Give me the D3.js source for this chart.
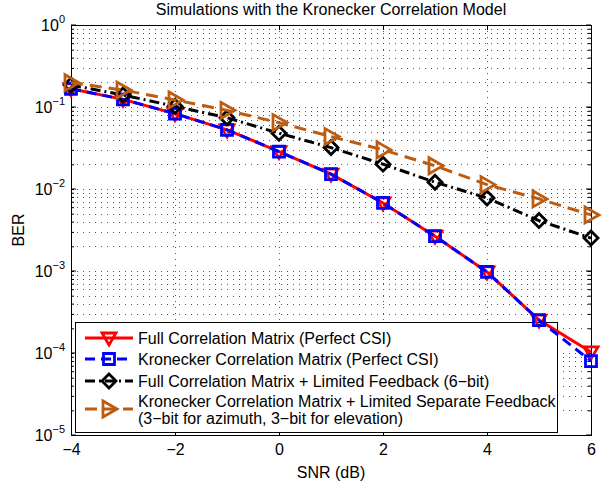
<!DOCTYPE html>
<html>
<head>
<meta charset="utf-8">
<script src="https://cdn.jsdelivr.net/npm/d3@7"></script>
<style>
  body { margin: 0; background: #fff; }
  svg { font-family: "Liberation Sans", Arial, sans-serif; }
</style>
</head>
<body>
<svg id="chart"></svg>
<script>
const w = 608;
const h = 485;
const margin = {top: 25, right: 17, bottom: 50, left: 71};

// SNR (dB) values
const snr = [-4, -3, -2, -1, 0, 1, 2, 3, 4, 5, 6];
// BER series
const fullPerfect = [0.167, 0.124, 0.083, 0.0526, 0.0286, 0.0152, 0.00676, 0.00266, 0.000973, 0.000252, 0.000103];
const kronPerfect = [0.167, 0.124, 0.083, 0.0526, 0.0286, 0.0152, 0.00676, 0.00266, 0.000973, 0.000252, 0.0000798];
const fullLimited = [0.185, 0.140, 0.102, 0.074, 0.0479, 0.032, 0.0201, 0.0121, 0.00778, 0.00412, 0.00252];
const kronLimited = [0.198, 0.161, 0.122, 0.091, 0.0645, 0.0436, 0.030, 0.0192, 0.0113, 0.00757, 0.00483];

const xTicks = [-4, -2, 0, 2, 4, 6];
const yDecades = [0, -1, -2, -3, -4, -5];

const seriesNames = [
  ["Full Correlation Matrix (Perfect CSI)"],
  ["Kronecker Correlation Matrix (Perfect CSI)"],
  ["Full Correlation Matrix + Limited Feedback (6\u2212bit)"],
  ["Kronecker Correlation Matrix + Limited Separate Feedback", "(3\u2212bit for azimuth, 3\u2212bit for elevation)"]
];

const series = [
  {values: fullPerfect, color: "#ff0000", dash: null, marker: "tdown"},
  {values: kronPerfect, color: "#0000ff", dash: "10,6", marker: "square"},
  {values: fullLimited, color: "#000000", dash: "10,4,2,4", marker: "diamond"},
  {values: kronLimited, color: "#bc5c12", dash: "12,7", marker: "tright"}
];

const fs = 16;

const svg = d3.select("#chart").attr("width", w).attr("height", h);

const x = d3.scaleLinear().domain([-4, 6]).range([margin.left, w - margin.right]);
const y = d3.scaleLog().domain([1e-5, 1]).range([h - margin.bottom, margin.top]);

// grid (dotted)
const minorVals = [];
for (let e = -5; e < 0; e++) {
  for (let k = 1; k <= 9; k++) minorVals.push(k * Math.pow(10, e));
}
const grid = svg.append("g").attr("stroke", "#555").attr("stroke-width", 1)
  .attr("stroke-dasharray", "1,5").attr("shape-rendering", "crispEdges");
grid.selectAll("line.h").data(minorVals.filter(v => v > 1e-5)).enter().append("line")
  .attr("x1", margin.left).attr("x2", w - margin.right)
  .attr("y1", d => Math.round(y(d)) + 0.5).attr("y2", d => Math.round(y(d)) + 0.5);
grid.selectAll("line.v").data(xTicks.slice(1, -1)).enter().append("line")
  .attr("y1", margin.top).attr("y2", h - margin.bottom)
  .attr("x1", d => Math.round(x(d)) + 0.5).attr("x2", d => Math.round(x(d)) + 0.5);

// axes with inward ticks
const axisG = svg.append("g");
axisG.append("g").attr("transform", `translate(0,${h - margin.bottom})`)
  .call(d3.axisBottom(x).tickValues(xTicks).tickSizeInner(-5).tickSizeOuter(0).tickPadding(9)
    .tickFormat(d => d < 0 ? "\u2212" + Math.abs(d) : d));
axisG.append("g").attr("transform", `translate(0,${margin.top})`)
  .call(d3.axisTop(x).tickValues(xTicks).tickSizeInner(-5).tickSizeOuter(0).tickFormat(""));
axisG.append("g").attr("transform", `translate(${margin.left},0)`)
  .call(d3.axisLeft(y).tickValues(minorVals.concat([1])).tickSizeInner(-3).tickSizeOuter(0).tickFormat(""));
axisG.append("g").attr("transform", `translate(${w - margin.right},0)`)
  .call(d3.axisRight(y).tickValues(minorVals.concat([1])).tickSizeInner(-3).tickSizeOuter(0).tickFormat(""));
axisG.selectAll(".domain").attr("stroke", "#000").attr("stroke-width", 1);
axisG.selectAll(".tick line").attr("stroke", "#000");
axisG.selectAll("text").attr("font-size", fs).attr("fill", "#000")
  .attr("font-family", "'Liberation Sans', Arial, sans-serif");

// major y ticks longer
const majorY = svg.append("g").attr("stroke", "#000");
yDecades.forEach(e => {
  const yy = y(Math.pow(10, e));
  majorY.append("line").attr("x1", margin.left).attr("x2", margin.left + 5).attr("y1", yy).attr("y2", yy);
  majorY.append("line").attr("x1", w - margin.right).attr("x2", w - margin.right - 5).attr("y1", yy).attr("y2", yy);
});

// y tick labels 10^e
const ylab = svg.append("g").attr("font-size", fs).attr("fill", "#000");
yDecades.forEach(e => {
  const t = ylab.append("text").attr("x", margin.left - 6).attr("y", y(Math.pow(10, e)) + 6)
    .attr("text-anchor", "end");
  t.append("tspan").text("10");
  t.append("tspan").attr("dy", -8).attr("font-size", 11).text(e === 0 ? "0" : "\u2212" + Math.abs(e));
});

// frame
svg.append("rect").attr("x", margin.left + 0.5).attr("y", margin.top + 0.5)
  .attr("width", w - margin.left - margin.right).attr("height", h - margin.top - margin.bottom)
  .attr("fill", "none").attr("stroke", "#000").attr("stroke-width", 1);

// markers
function markerPath(type) {
  if (type === "tdown") return "M-7,-5L7,-5L0,7Z";
  if (type === "square") return "M-5.5,-5.5L5.5,-5.5L5.5,5.5L-5.5,5.5Z";
  if (type === "diamond") return "M0,-7L7,0L0,7L-7,0Z";
  return "M-6,-8L-6,8L8,0Z";
}

// legend box (curves cross its top-right corner in the original)
const lg = svg.append("g");
lg.append("rect").attr("x", 75.5).attr("y", 322.5).attr("width", 482).attr("height", 110)
  .attr("fill", "#fff").attr("stroke", "#000").attr("stroke-width", 1);
const rowY = [338, 359, 381, 409];
series.forEach((s, i) => {
  const yy = rowY[i];
  lg.append("line").attr("x1", 85).attr("x2", 133).attr("y1", yy).attr("y2", yy)
    .attr("stroke", s.color).attr("stroke-width", 3).attr("stroke-dasharray", s.dash);
  lg.append("path").attr("transform", `translate(109,${yy})`).attr("d", markerPath(s.marker))
    .attr("fill", "none").attr("stroke", s.color).attr("stroke-width", 2.8);
  const lines = seriesNames[i];
  lines.forEach((txt, j) => {
    lg.append("text").attr("x", 138)
      .attr("y", yy + 6 + (j - (lines.length - 1) / 2) * 17)
      .attr("font-size", fs).attr("fill", "#000").text(txt);
  });
});

const plot = svg.append("g");
const line = d3.line().x((d, i) => x(snr[i])).y(d => y(d));
series.forEach(s => {
  plot.append("path").datum(s.values).attr("d", line)
    .attr("fill", "none").attr("stroke", s.color).attr("stroke-width", 3)
    .attr("stroke-dasharray", s.dash);
  plot.append("g").selectAll("path").data(s.values).enter().append("path")
    .attr("transform", (d, i) => `translate(${x(snr[i])},${y(d)})`)
    .attr("d", markerPath(s.marker))
    .attr("fill", "none").attr("stroke", s.color).attr("stroke-width", 2.8)
    .attr("stroke-linejoin", "miter");
});

// title and axis labels
svg.append("text").attr("x", (margin.left + w - margin.right) / 2).attr("y", 15)
  .attr("text-anchor", "middle").attr("font-size", fs).text("Simulations with the Kronecker Correlation Model");
svg.append("text").attr("x", (margin.left + w - margin.right) / 2).attr("y", 478)
  .attr("text-anchor", "middle").attr("font-size", fs).text("SNR (dB)");
svg.append("text").attr("transform", `translate(24,${(margin.top + h - margin.bottom) / 2}) rotate(-90)`)
  .attr("text-anchor", "middle").attr("font-size", fs).text("BER");
</script>
</body>
</html>
